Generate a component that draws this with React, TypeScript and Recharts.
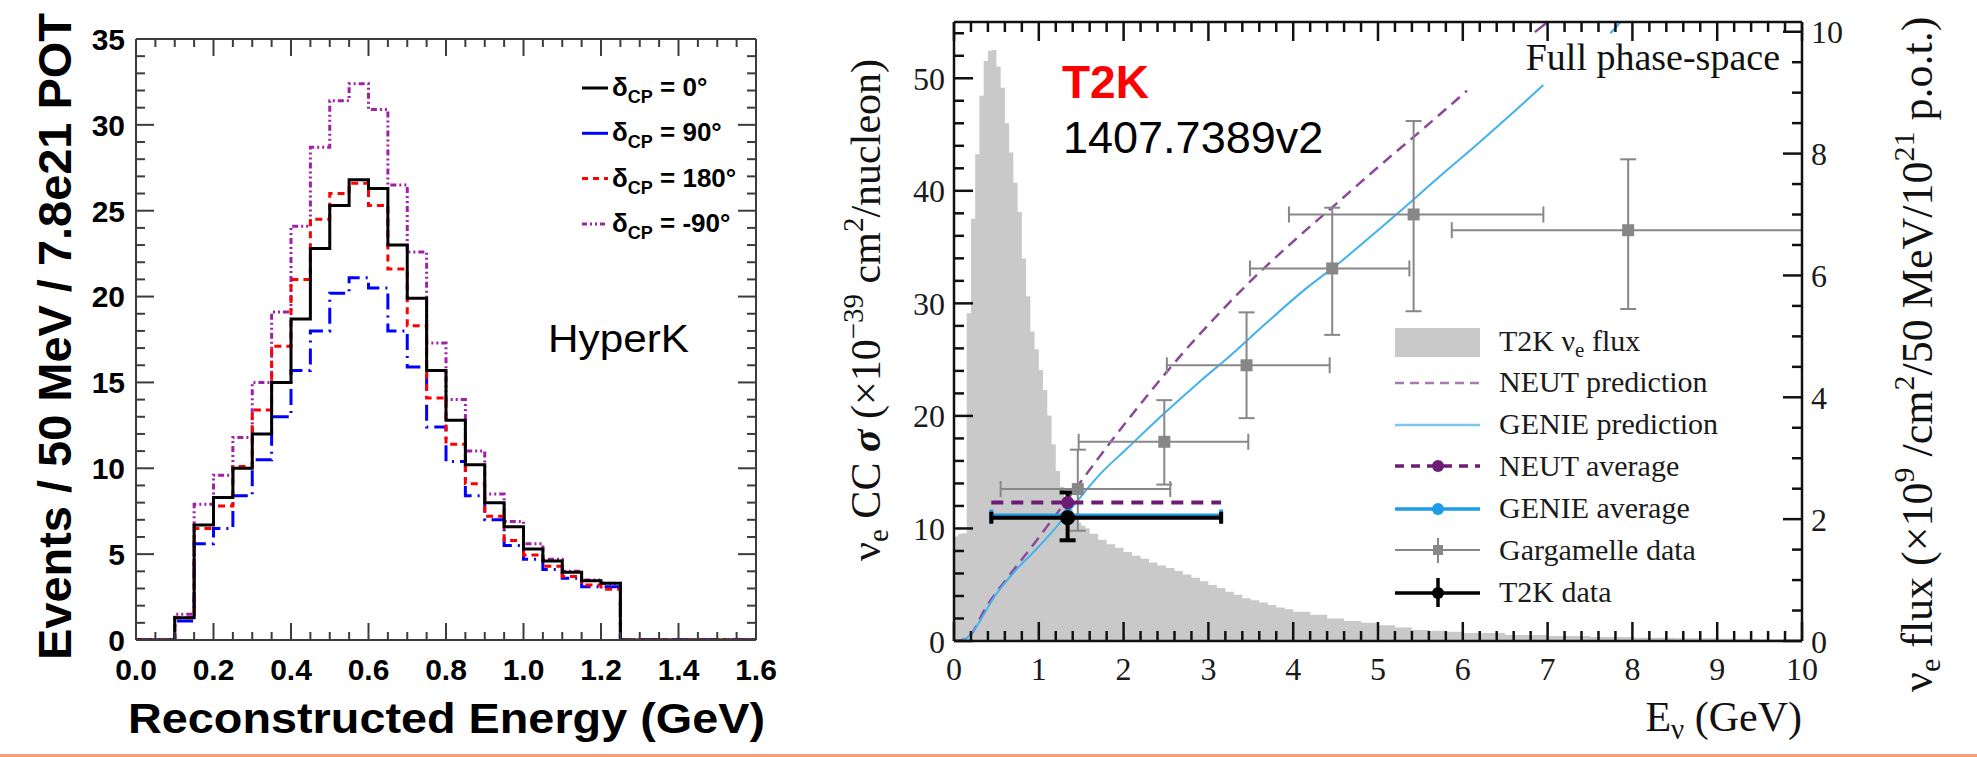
import React from 'react';
import { ComposedChart, Line, Area, Scatter, ErrorBar, XAxis, YAxis } from 'recharts';

const SANS = "'Liberation Sans', Arial, Helvetica, sans-serif";
const SERIF = "'Liberation Serif', 'Times New Roman', Times, serif";

// ---------- left panel: HyperK, events per 50 MeV bin ----------
const binEdges = [
  0, 0.05, 0.1, 0.15, 0.2, 0.25, 0.3, 0.35, 0.4, 0.45, 0.5, 0.55, 0.6, 0.65, 0.7, 0.75,
  0.8, 0.85, 0.9, 0.95, 1.0, 1.05, 1.1, 1.15, 1.2, 1.25, 1.3, 1.35, 1.4, 1.45, 1.5, 1.55, 1.6,
];
const dcp0 = [
  0, 0, 1.3, 6.7, 8.3, 10.0, 12.0, 15.0, 18.7, 22.8, 25.3, 26.8, 26.3, 23.0, 19.9, 15.7,
  12.8, 10.2, 8.0, 6.6, 5.3, 4.6, 3.95, 3.45, 3.3, 0, 0, 0, 0, 0, 0, 0,
];
const dcp90 = [
  0, 0, 1.1, 5.6, 6.5, 8.4, 10.5, 13.0, 15.7, 18.0, 20.2, 21.1, 20.5, 18.0, 15.9, 12.4,
  10.4, 8.4, 7.0, 5.5, 4.7, 4.1, 3.6, 3.1, 3.1, 0, 0, 0, 0, 0, 0, 0,
];
const dcp180 = [
  0, 0, 1.3, 6.5, 7.8, 10.1, 13.4, 17.1, 21.0, 24.5, 26.0, 26.6, 25.3, 21.6, 18.3, 14.1,
  11.4, 9.1, 7.2, 5.8, 4.95, 4.3, 3.7, 3.2, 2.95, 0, 0, 0, 0, 0, 0, 0,
];
const dcpm90 = [
  0, 0, 1.5, 7.9, 9.6, 11.8, 15.0, 19.1, 24.1, 28.7, 31.4, 32.4, 30.9, 26.5, 22.6, 17.3,
  14.0, 11.0, 8.5, 6.9, 5.6, 4.7, 4.0, 3.5, 3.3, 0, 0, 0, 0, 0, 0, 0,
];
const dcpLegend = ['0°', '90°', '180°', '-90°'];

const leftXTicks = Array.from({ length: 33 }, (_, i) => Math.round(i * 5) / 100);
const leftXLabels = ['0.0', '0.2', '0.4', '0.6', '0.8', '1.0', '1.2', '1.4', '1.6'];
const leftYTicks = Array.from({ length: 36 }, (_, i) => i);
const leftYLabels = ['0', '5', '10', '15', '20', '25', '30', '35'];

// ---------- right panel: T2K nu_e CC cross section ----------
const fluxE = [
  0, 0.05, 0.1, 0.15, 0.2, 0.25, 0.3, 0.35, 0.4, 0.45, 0.5, 0.55, 0.6, 0.65, 0.7, 0.75, 0.8,
  0.85, 0.9, 0.95, 1.0, 1.05, 1.1, 1.15, 1.2, 1.25, 1.3, 1.35, 1.4, 1.45, 1.5, 1.55, 1.6, 1.7,
  1.8, 1.9, 2.0, 2.1, 2.2, 2.3, 2.4, 2.5, 2.6, 2.7, 2.8, 2.9, 3.0, 3.1, 3.2, 3.3, 3.4, 3.5,
  3.6, 3.7, 3.8, 3.9, 4.0, 4.2, 4.4, 4.6, 4.8, 5.0, 5.2, 5.4, 5.6, 5.8, 6.0, 6.5, 7.0, 7.5,
  8.0, 8.5, 9.0, 9.5, 10.0,
];
const fluxVal = [
  1.72, 1.76, 1.77, 5.38, 6.93, 7.99, 8.95, 9.52, 9.69, 9.7, 9.43, 9.08, 8.5, 8.02, 7.52, 7.04,
  6.28, 5.66, 5.08, 4.79, 4.45, 4.12, 3.7, 3.23, 2.79, 2.53, 2.35, 2.16, 2.03, 1.94, 1.89, 1.85,
  1.76, 1.66, 1.59, 1.53, 1.46, 1.4, 1.35, 1.29, 1.24, 1.2, 1.15, 1.09, 1.04, 0.98, 0.92, 0.87,
  0.81, 0.76, 0.7, 0.67, 0.63, 0.59, 0.55, 0.52, 0.48, 0.43, 0.37, 0.33, 0.3, 0.26, 0.22, 0.18,
  0.17, 0.15, 0.13, 0.1, 0.083, 0.065, 0.055, 0.046, 0.037, 0.028, 0,
];

const neutE = [0, 0.1, 0.2, 0.37, 0.64, 0.91, 1.18, 1.45, 1.9, 2.3, 2.7, 3.1, 3.5, 4.0, 4.5, 5.0, 5.5, 6.05];
const neutXs = [0, 0.1, 0.6, 2.9, 5.7, 8.3, 11.0, 13.7, 18.2, 22.0, 25.6, 28.9, 32.0, 35.5, 38.8, 42.1, 45.3, 48.9];
const neutTopE = [6.85, 7.0];
const neutTopXs = [54.1, 55];

const genieE = [0, 0.1, 0.17, 0.5, 0.73, 0.95, 1.18, 1.45, 1.72, 2.04, 2.49, 2.89, 3.25, 3.66, 4.1, 4.56, 5.0, 5.43, 5.7, 6.15, 6.6, 6.95];
const genieXs = [0, 0.05, 0.4, 4.2, 6.3, 8.0, 9.9, 12.4, 14.8, 17.1, 20.3, 23.0, 25.3, 28.1, 31.0, 33.7, 36.5, 39.3, 41.1, 44.0, 47.0, 49.4];
const genieTopE = [7.74, 7.86];
const genieTopXs = [54, 55];

const gargE = [1.46, 2.48, 3.45, 4.46, 5.42, 7.95];
const gargELo = [0.55, 1.47, 2.51, 3.49, 3.95, 5.87];
const gargEHi = [2.55, 3.47, 4.43, 5.37, 6.95, 10.0];
const gargXs = [13.5, 17.7, 24.5, 33.1, 37.9, 36.5];
const gargXsLo = [9.8, 13.9, 19.8, 27.2, 29.3, 29.5];
const gargXsHi = [17.0, 21.4, 29.2, 38.5, 46.2, 42.8];

const avgE = [1.34];
const avgELo = [0.44];
const avgEHi = [3.15];
const neutAvg = [12.3];
const genieAvg = [11.15];
const t2kXs = [10.95];
const t2kXsLo = [8.95];
const t2kXsHi = [13.2];

const rightXTicks = Array.from({ length: 51 }, (_, i) => Math.round(i * 2) / 10);
const rightXLabels = ['0', '1', '2', '3', '4', '5', '6', '7', '8', '9', '10'];
const sigmaTicks = Array.from({ length: 28 }, (_, i) => i * 2);
const sigmaLabels = ['0', '10', '20', '30', '40', '50'];
const fluxTicks = Array.from({ length: 21 }, (_, i) => i * 0.5);
const fluxLabels = ['0', '2', '4', '6', '8', '10'];
const rightLegend = ['NEUT prediction', 'GENIE prediction', 'NEUT average', 'GENIE average', 'Gargamelle data', 'T2K data'];

// ---------- derived tables ----------
const histData = binEdges.map((e, i) => ({
  e,
  d0: dcp0[i] ?? 0,
  d90: dcp90[i] ?? 0,
  d180: dcp180[i] ?? 0,
  dm90: dcpm90[i] ?? 0,
}));
const fluxData = fluxE.map((e, i) => ({ e, flux: fluxVal[i] }));
const neutData = neutE.map((e, i) => ({ e, xs: neutXs[i] }));
const neutTop = neutTopE.map((e, i) => ({ e, xs: neutTopXs[i] }));
const genieData = genieE.map((e, i) => ({ e, xs: genieXs[i] }));
const genieTop = genieTopE.map((e, i) => ({ e, xs: genieTopXs[i] }));
const gargData = gargE.map((e, i) => ({
  e,
  xs: gargXs[i],
  ex: [e - gargELo[i], gargEHi[i] - e],
  ey: [gargXs[i] - gargXsLo[i], gargXsHi[i] - gargXs[i]],
}));
const neutAvgLine = [
  { e: avgELo[0], xs: neutAvg[0] },
  { e: avgEHi[0], xs: neutAvg[0] },
];
const neutAvgDot = avgE.map((e, i) => ({ e, xs: neutAvg[i] }));
const genieAvgData = avgE.map((e, i) => ({ e, xs: genieAvg[i], ex: [e - avgELo[i], avgEHi[i] - e] }));
const t2kData = avgE.map((e, i) => ({
  e,
  xs: t2kXs[i],
  ex: [e - avgELo[i], avgEHi[i] - e],
  ey: [t2kXs[i] - t2kXsLo[i], t2kXsHi[i] - t2kXs[i]],
}));

// ---------- ROOT style inward ticks ----------
type Side = 'bottom' | 'top' | 'left' | 'right';
interface TickStyle {
  side: Side;
  gap: number;
  majorStep: number;
  labels?: string[];
  major: number;
  minor: number;
  stroke: string;
  width: number;
  font?: Record<string, any>;
}

const makeTick = (s: TickStyle) => (props: any) => {
  const { x, y, payload } = props;
  const v = payload.value as number;
  const k = v / s.majorStep;
  const isMajor = Math.abs(k - Math.round(k)) < 1e-6;
  const len = isMajor ? s.major : s.minor;
  let x1 = x, y1 = y, x2 = x, y2 = y;
  let anchor = 'middle';
  let dy = '0';
  if (s.side === 'bottom') {
    y1 = y - s.gap;
    y2 = y1 - len;
  } else if (s.side === 'top') {
    y1 = y + s.gap;
    y2 = y1 + len;
  } else if (s.side === 'left') {
    x1 = x + s.gap;
    x2 = x1 + len;
    anchor = 'end';
    dy = '0.36em';
  } else {
    x1 = x - s.gap;
    x2 = x1 - len;
    anchor = 'start';
    dy = '0.36em';
  }
  const label = s.labels && isMajor ? s.labels[Math.round(k)] : null;
  return (
    <g>
      <line x1={x1} y1={y1} x2={x2} y2={y2} stroke={s.stroke} strokeWidth={s.width} />
      {label != null && (
        <text x={x} y={y} dy={dy} textAnchor={anchor} {...s.font}>
          {label}
        </text>
      )}
    </g>
  );
};

const FRAME_L = '#3c3c3c';
const FRAME_R = '#111111';
const leftFont = { fontFamily: SANS, fontWeight: 'bold', fontSize: 30, fill: '#000' };
const rightFont = { fontFamily: SERIF, fontSize: 32, fill: '#1a1a1a' };

const leftBottom = makeTick({ side: 'bottom', gap: 40, majorStep: 0.2, labels: leftXLabels, major: 17, minor: 8, stroke: FRAME_L, width: 2, font: leftFont });
const leftTop = makeTick({ side: 'top', gap: 0, majorStep: 0.2, major: 17, minor: 8, stroke: FRAME_L, width: 2 });
const leftLeft = makeTick({ side: 'left', gap: 11, majorStep: 5, labels: leftYLabels, major: 18, minor: 9, stroke: FRAME_L, width: 2, font: leftFont });
const leftRight = makeTick({ side: 'right', gap: 0, majorStep: 5, major: 18, minor: 9, stroke: FRAME_L, width: 2 });

const rBottom = makeTick({ side: 'bottom', gap: 39, majorStep: 1, labels: rightXLabels, major: 19, minor: 10, stroke: FRAME_R, width: 2.5, font: rightFont });
const rTop = makeTick({ side: 'top', gap: 0, majorStep: 1, major: 19, minor: 10, stroke: FRAME_R, width: 2.5 });
const rLeft = makeTick({ side: 'left', gap: 9, majorStep: 10, labels: sigmaLabels, major: 19, minor: 10, stroke: FRAME_R, width: 2.5, font: rightFont });
const rRight = makeTick({ side: 'right', gap: 9, majorStep: 2, labels: fluxLabels, major: 19, minor: 10, stroke: FRAME_R, width: 2.5, font: rightFont });

const square = (color: string, half: number) => (p: any) => (
  <rect x={p.cx - half} y={p.cy - half} width={half * 2} height={half * 2} fill={color} />
);
const dot = (color: string, r: number) => (p: any) => <circle cx={p.cx} cy={p.cy} r={r} fill={color} />;

const C = {
  d0: '#000000',
  d90: '#0000ff',
  d180: '#ff0000',
  dm90: '#a020a8',
  flux: '#c9c9c9',
  neut: '#8b4a99',
  genie: '#41b1ef',
  neutAvg: '#6e1b75',
  genieAvg: '#1e9be9',
  garg: '#878787',
};

const leftLegendStyle = [
  { color: C.d0, dash: undefined },
  { color: C.d90, dash: undefined },
  { color: C.d180, dash: '6 5' },
  { color: C.dm90, dash: '5 3 2 3 2 3' },
];

export default function App() {
  const leftAxisLine = { stroke: FRAME_L, strokeWidth: 2 };
  const rightAxisLine = { stroke: FRAME_R, strokeWidth: 2.5 };
  return (
    <div style={{ position: 'absolute', left: 0, top: 0, width: 1977, height: 757, background: '#fff', overflow: 'hidden' }}>
      {/* left panel: plot area x 136..756, y 39..640 */}
      <div style={{ position: 'absolute', left: 0, top: 0 }}>
        <ComposedChart width={870} height={757} data={histData} margin={{ top: 38, right: 113, bottom: 116, left: 135 }}>
          <XAxis xAxisId="b" dataKey="e" type="number" domain={[0, 1.6]} allowDataOverflow ticks={leftXTicks} interval={0} height={1} tickSize={0} tickMargin={40} tickLine={false} axisLine={leftAxisLine} tick={leftBottom} />
          <XAxis xAxisId="t" orientation="top" dataKey="e" type="number" domain={[0, 1.6]} allowDataOverflow ticks={leftXTicks} interval={0} height={1} tickSize={0} tickMargin={0} tickLine={false} axisLine={leftAxisLine} tick={leftTop} />
          <YAxis yAxisId="l" type="number" domain={[0, 35]} allowDataOverflow ticks={leftYTicks} interval={0} width={1} tickSize={0} tickMargin={11} tickLine={false} axisLine={leftAxisLine} tick={leftLeft} />
          <YAxis yAxisId="r" orientation="right" type="number" domain={[0, 35]} allowDataOverflow ticks={leftYTicks} interval={0} width={1} tickSize={0} tickMargin={0} tickLine={false} axisLine={leftAxisLine} tick={leftRight} />
          <Line xAxisId="b" yAxisId="l" dataKey="dm90" type="stepAfter" stroke={C.dm90} strokeWidth={3} strokeDasharray="6 3 2 3 2 3" dot={false} isAnimationActive={false} />
          <Line xAxisId="b" yAxisId="l" dataKey="d90" type="stepAfter" stroke={C.d90} strokeWidth={3} strokeDasharray="16 6 2 6" dot={false} isAnimationActive={false} />
          <Line xAxisId="b" yAxisId="l" dataKey="d180" type="stepAfter" stroke={C.d180} strokeWidth={3} strokeDasharray="7 5" dot={false} isAnimationActive={false} />
          <Line xAxisId="b" yAxisId="l" dataKey="d0" type="stepAfter" stroke={C.d0} strokeWidth={3} dot={false} isAnimationActive={false} />
        </ComposedChart>
      </div>

      {/* right panel: plot area x 954..1802, y 22..641 */}
      <div style={{ position: 'absolute', left: 800, top: 0 }}>
        <ComposedChart width={1177} height={757} data={fluxData} margin={{ top: 21, right: 174, bottom: 115, left: 153 }}>
          <XAxis xAxisId="b" dataKey="e" type="number" domain={[0, 10]} allowDataOverflow ticks={rightXTicks} interval={0} height={1} tickSize={0} tickMargin={39} tickLine={false} axisLine={rightAxisLine} tick={rBottom} />
          <XAxis xAxisId="t" orientation="top" dataKey="e" type="number" domain={[0, 10]} allowDataOverflow ticks={rightXTicks} interval={0} height={1} tickSize={0} tickMargin={0} tickLine={false} axisLine={rightAxisLine} tick={rTop} />
          <YAxis yAxisId="l" type="number" domain={[0, 55]} allowDataOverflow ticks={sigmaTicks} interval={0} width={1} tickSize={0} tickMargin={9} tickLine={false} axisLine={rightAxisLine} tick={rLeft} />
          <YAxis yAxisId="r" orientation="right" type="number" domain={[0, 10.16]} allowDataOverflow ticks={fluxTicks} interval={0} width={1} tickSize={0} tickMargin={9} tickLine={false} axisLine={rightAxisLine} tick={rRight} />

          <Area xAxisId="b" yAxisId="r" dataKey="flux" type="stepAfter" fill={C.flux} fillOpacity={1} stroke="none" dot={false} activeDot={false} isAnimationActive={false} />

          <Line xAxisId="b" yAxisId="l" data={neutData} dataKey="xs" type="monotone" stroke={C.neut} strokeWidth={2.5} strokeDasharray="11 7" dot={false} isAnimationActive={false} />
          <Line xAxisId="b" yAxisId="l" data={neutTop} dataKey="xs" type="linear" stroke={C.neut} strokeWidth={2.5} dot={false} isAnimationActive={false} />
          <Line xAxisId="b" yAxisId="l" data={genieData} dataKey="xs" type="monotone" stroke={C.genie} strokeWidth={2} dot={false} isAnimationActive={false} />
          <Line xAxisId="b" yAxisId="l" data={genieTop} dataKey="xs" type="linear" stroke={C.genie} strokeWidth={2} dot={false} isAnimationActive={false} />

          <Scatter xAxisId="b" yAxisId="l" data={gargData} dataKey="xs" shape={square(C.garg, 6)} isAnimationActive={false}>
            <ErrorBar dataKey="ex" direction="x" width={8} stroke={C.garg} strokeWidth={2} />
            <ErrorBar dataKey="ey" direction="y" width={8} stroke={C.garg} strokeWidth={2} />
          </Scatter>

          <Line xAxisId="b" yAxisId="l" data={neutAvgLine} dataKey="xs" type="linear" stroke={C.neutAvg} strokeWidth={4} strokeDasharray="12 8" dot={false} isAnimationActive={false} />
          <Scatter xAxisId="b" yAxisId="l" data={neutAvgDot} dataKey="xs" shape={dot(C.neutAvg, 6.5)} isAnimationActive={false} />

          <Scatter xAxisId="b" yAxisId="l" data={genieAvgData} dataKey="xs" shape={dot(C.genieAvg, 6.5)} isAnimationActive={false}>
            <ErrorBar dataKey="ex" direction="x" width={6} stroke={C.genieAvg} strokeWidth={4} />
          </Scatter>

          <Scatter xAxisId="b" yAxisId="l" data={t2kData} dataKey="xs" shape={dot('#000', 7.5)} isAnimationActive={false}>
            <ErrorBar dataKey="ex" direction="x" width={6} stroke="#000" strokeWidth={4} />
            <ErrorBar dataKey="ey" direction="y" width={8} stroke="#000" strokeWidth={4} />
          </Scatter>
        </ComposedChart>
      </div>

      {/* text, titles and legends */}
      <svg width={1977} height={757} style={{ position: 'absolute', left: 0, top: 0, pointerEvents: 'none' }}>
        {/* left panel titles */}
        <text transform="rotate(-90 71 660)" x={71} y={660} fontFamily={SANS} fontWeight="bold" fontSize={46} textLength={647} lengthAdjust="spacingAndGlyphs">
          Events / 50 MeV / 7.8e21 POT
        </text>
        <text x={128} y={733} fontFamily={SANS} fontWeight="bold" fontSize={42} textLength={637} lengthAdjust="spacingAndGlyphs">
          Reconstructed Energy (GeV)
        </text>
        <text x={548} y={352} fontFamily={SANS} fontSize={38} textLength={141} lengthAdjust="spacingAndGlyphs">
          HyperK
        </text>

        {/* left legend */}
        {dcpLegend.map((lab, i) => {
          const cy = 88 + i * 45.3;
          const st = leftLegendStyle[i];
          return (
            <g key={lab}>
              <line x1={582} x2={608} y1={cy} y2={cy} stroke={st.color} strokeWidth={3} strokeDasharray={st.dash} />
              <text x={612} y={cy + 8} fontFamily={SANS} fontWeight="bold" fontSize={26} fill="#000">
                <tspan>δ</tspan>
                <tspan fontSize={18} dy={7}>CP</tspan>
                <tspan dy={-7}>{` = ${lab}`}</tspan>
              </text>
            </g>
          );
        })}

        {/* right panel titles */}
        <text transform="rotate(-90 880 561)" x={880} y={561} fontFamily={SERIF} fontSize={42} fill="#111">
          <tspan>ν</tspan>
          <tspan fontSize={29} dy={8}>e</tspan>
          <tspan dy={-8}> CC </tspan>
          <tspan fontStyle="italic" fontWeight="bold">σ</tspan>
          <tspan> (×10</tspan>
          <tspan fontSize={29} dy={-17}>−39</tspan>
          <tspan dy={17}> cm</tspan>
          <tspan fontSize={29} dy={-17}>2</tspan>
          <tspan dy={17}>/nucleon)</tspan>
        </text>
        <text transform="rotate(-90 1932 692)" x={1932} y={692} fontFamily={SERIF} fontSize={44} fill="#111">
          <tspan>ν</tspan>
          <tspan fontSize={30} dy={8}>e</tspan>
          <tspan dy={-8}> flux (×10</tspan>
          <tspan fontSize={30} dy={-18}>9</tspan>
          <tspan dy={18}> /cm</tspan>
          <tspan fontSize={30} dy={-18}>2</tspan>
          <tspan dy={18}>/50 MeV/10</tspan>
          <tspan fontSize={30} dy={-18}>21</tspan>
          <tspan dy={18}> p.o.t.)</tspan>
        </text>
        <text x={1802} y={731} textAnchor="end" fontFamily={SERIF} fontSize={42} fill="#111">
          <tspan>E</tspan>
          <tspan fontSize={29} dy={8}>ν</tspan>
          <tspan dy={-8}> (GeV)</tspan>
        </text>
        <text x={1062} y={98} fontFamily={SANS} fontWeight="bold" fontSize={46} fill="#ff0000">
          T2K
        </text>
        <text x={1063} y={153} fontFamily={SANS} fontSize={45} fill="#000">
          1407.7389v2
        </text>
        <text x={1780} y={70} textAnchor="end" fontFamily={SERIF} fontSize={38} fill="#111">
          Full phase-space
        </text>

        {/* right legend */}
        <rect x={1395} y={328} width={85} height={29} fill={C.flux} />
        <text x={1499} y={351} fontFamily={SERIF} fontSize={30} fill="#1a1a1a">
          <tspan>T2K ν</tspan>
          <tspan fontSize={21} dy={6}>e</tspan>
          <tspan dy={-6}> flux</tspan>
        </text>
        <line x1={1395} x2={1480} y1={383} y2={383} stroke="#a57ab3" strokeWidth={2.5} strokeDasharray="9 6" />
        <line x1={1395} x2={1480} y1={425} y2={425} stroke="#7cc6f2" strokeWidth={2.5} />
        <line x1={1395} x2={1480} y1={466} y2={466} stroke={C.neutAvg} strokeWidth={3.5} strokeDasharray="9 7" />
        <circle cx={1438} cy={466} r={6} fill={C.neutAvg} />
        <line x1={1395} x2={1480} y1={509} y2={509} stroke={C.genieAvg} strokeWidth={3.5} />
        <circle cx={1438} cy={509} r={6} fill={C.genieAvg} />
        <line x1={1395} x2={1480} y1={550} y2={550} stroke={C.garg} strokeWidth={2} />
        <line x1={1438} x2={1438} y1={538} y2={563} stroke={C.garg} strokeWidth={2} />
        <rect x={1433} y={545} width={10} height={10} fill={C.garg} />
        <line x1={1395} x2={1480} y1={593} y2={593} stroke="#000" strokeWidth={3.5} />
        <line x1={1438} x2={1438} y1={578} y2={607} stroke="#000" strokeWidth={3.5} />
        <circle cx={1438} cy={593} r={6} fill="#000" />
        {rightLegend.map((lab, i) => (
          <text key={lab} x={1499} y={392 + i * 42} fontFamily={SERIF} fontSize={30} fill="#1a1a1a">
            {lab}
          </text>
        ))}
      </svg>

      <div style={{ position: 'absolute', left: 0, top: 754, width: 1977, height: 3, background: '#f3a07a' }} />
    </div>
  );
}
